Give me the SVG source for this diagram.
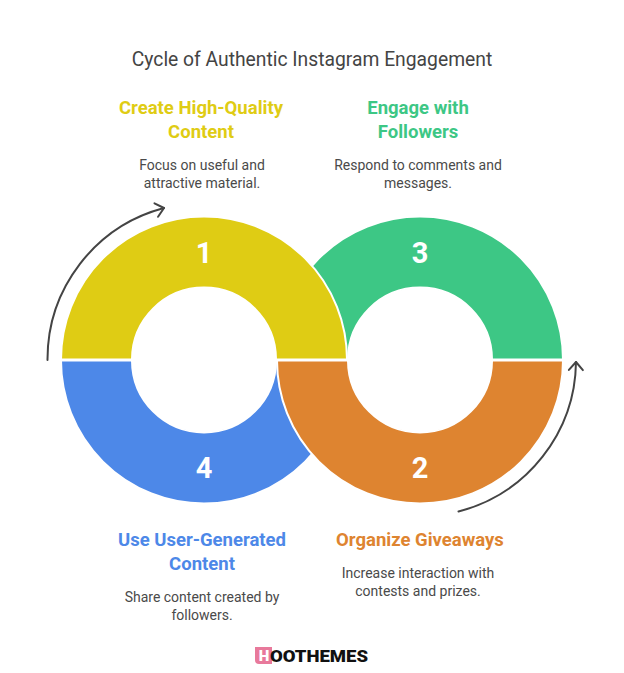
<svg xmlns="http://www.w3.org/2000/svg" width="624" height="673" viewBox="0 0 624 673">
<defs>
<marker id="ah" markerUnits="userSpaceOnUse" markerWidth="20" markerHeight="20" refX="11" refY="10" orient="auto"><path d="M3 3L11 10L3 17" fill="none" stroke="#444" stroke-width="2" stroke-linecap="round" stroke-linejoin="round"/></marker>
</defs>
<style>
text{font-family:Roboto,"Liberation Sans",sans-serif;text-anchor:middle}
.h{font-size:18.5px;font-weight:700}
.b{font-size:14px;fill:#4a4a4a}
.n{font-size:29px;font-weight:700;fill:#fff}
.s{stroke:#fff;stroke-width:2}
.a{fill:none;stroke:#444;stroke-width:2;stroke-linecap:round}
</style>
<rect width="624" height="673" fill="#fff"/>
<text x="312" y="66" font-size="19.3" fill="#444" id="title">Cycle of Authentic Instagram Engagement</text>
<g id="node3"><path class="s" fill="#3dc785" d="M277 359.5A143 143 0 0 1 563 359.5H492A72 72 0 0 0 348 359.5Z"/><text class="n" x="420" y="263">3</text><text class="h" fill="#3dc785" x="418" y="114">Engage with</text><text class="h" fill="#3dc785" x="418" y="138">Followers</text><text class="b" x="418" y="170">Respond to comments and</text><text class="b" x="418" y="188">messages.</text></g>
<g id="node4"><path class="s" fill="#4d88e8" d="M61 360.5A143 143 0 0 0 347 360.5H276A72 72 0 0 1 132 360.5Z"/><text class="n" x="204" y="478">4</text><text class="h" fill="#4d88e8" x="202" y="546">Use User-Generated</text><text class="h" fill="#4d88e8" x="202" y="570">Content</text><text class="b" x="202" y="602">Share content created by</text><text class="b" x="202" y="620">followers.</text></g>
<g id="node1"><path class="s" fill="#dfcc14" d="M61 359.5A143 143 0 0 1 347 359.5H276A72 72 0 0 0 132 359.5Z"/><text class="n" x="204" y="263">1</text><text class="h" fill="#dfcc14" x="201" y="114">Create High-Quality</text><text class="h" fill="#dfcc14" x="201" y="138">Content</text><text class="b" x="202" y="170">Focus on useful and</text><text class="b" x="202" y="188">attractive material.</text></g>
<g id="node2"><path class="s" fill="#de8430" d="M277 360.5A143 143 0 0 0 563 360.5H492A72 72 0 0 1 348 360.5Z"/><text class="n" x="420" y="478">2</text><text class="h" fill="#de8430" x="420" y="546">Organize Giveaways</text><text class="b" x="418" y="578">Increase interaction with</text><text class="b" x="418" y="596">contests and prizes.</text></g>
<g id="connectors"><path class="a" marker-end="url(#ah)" d="M47.5 360A156.5 156.5 0 0 1 164 208"/><path class="a" marker-end="url(#ah)" d="M458.500 511.500A156.500 156.500 0 0 0 576 362"/></g>
<g id="logo"><path fill="#e8799b" d="M255 647H272V664H259Q255 664 255 660Z"/><text x="264" y="661" font-size="15" font-weight="900" fill="#fff">H</text><text x="319" y="662" font-size="16" font-weight="900" fill="#111" textLength="98" lengthAdjust="spacingAndGlyphs">OOTHEMES</text></g>
</svg>
